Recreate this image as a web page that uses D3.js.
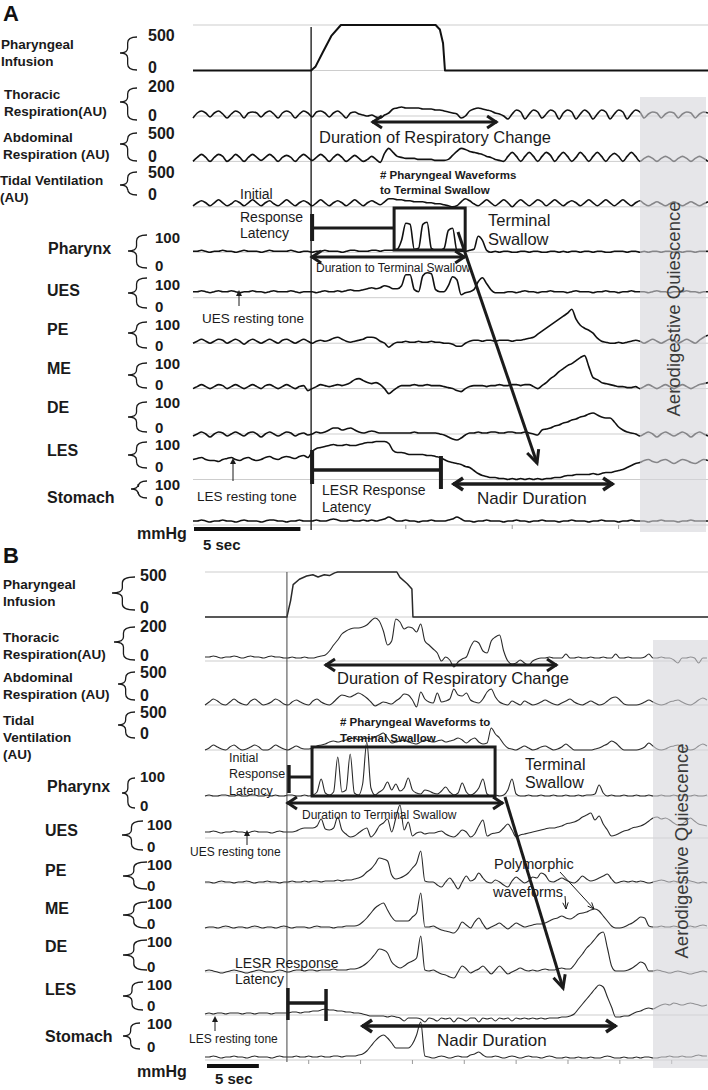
<!DOCTYPE html>
<html><head><meta charset="utf-8">
<script src="https://cdn.jsdelivr.net/npm/d3@7"></script>
<style>body{margin:0;background:#fff}svg{display:block}text{font-family:"Liberation Sans",Arial,Helvetica,sans-serif}</style>
</head><body><svg id="chart" width="708" height="1090"></svg>
<script>
// ===================== DATA =====================
const channelFullScale = [500,200,500,500,100,100,100,100,100,100,100];
const scaleTopLabels = ["500","200","500","500","100","100","100","100","100","100","100"];
const namesA = [["Pharyngeal","Infusion"],["Thoracic","Respiration(AU)"],["Abdominal","Respiration (AU)"],["Tidal Ventilation","(AU)"],["Pharynx"],["UES"],["PE"],["ME"],["DE"],["LES"],["Stomach"]];
const namesB = [["Pharyngeal","Infusion"],["Thoracic","Respiration(AU)"],["Abdominal","Respiration (AU)"],["Tidal","Ventilation","(AU)"],["Pharynx"],["UES"],["PE"],["ME"],["DE"],["LES"],["Stomach"]];
const stepA = 0.2, stepB = 0.4;          // seconds between samples
const onsetA = 5.55, onsetB = 7.9;       // stimulus onset (s)
const tickSecA = [10,15,20], tickSecB = [10,15,20,25,30,35,40,45];

// Panel A
const infusionA = [[0,0],[5.55,0],[5.75,40],[6.1,200],[6.5,380],[6.95,500],[11.4,500],[11.6,450],[11.75,300],[11.84,0],[24.2,0]];
const thoracicA = [-16,24,40,24,-8,24,40,16,-16,16,40,24,-16,24,32,24,-8,24,40,16,-16,24,40,24,-16,16,40,24,
 -8,32,40,24,-8,24,40,16, -16,24,32,16,8,0,8,-8,-16,8,24,
 56,64,72,64,64,64,64,56,56,56,48,48,40,32,24,16,
 -16,0,40,56,64,56,48,40,24,16,0,
 -24,16,48,32,-24,16,48,32,-16,16,48,32,-24,24,48,32,-24,16,48,24,-24,16,48,32,-24,16,48,32,-24,16,48,
 32,-16,16,32,24,-16,16,32,24,-16,16,32,24,-16,16,32,24];
const abdominalA = [0,80,140,80,0,80,140,100,0,60,140,80,0,80,140,80,20,80,140,80,0,80,120,80,0,80,140,80,
 20,80,140,80,0,80,140,80,0,60,120,60,0,40,100,40, -20,160,260,
 180,100,80,60,60,60,40,40,40,40,20,20,20,40,
 120,200,260,240,200,180,160,140,100,80,40,20,
 0,100,180,100,0,100,180,100,0,100,180,120,0,100,180,100,0,80,180,100,0,100,180,100,0,100,160,100,0,100,180,100,
 0,60,100,60,0,60,100,60,0,60,100,60,0,60,100,60,0];
const tidalA = [20,80,120,80,20,80,140,80,20,60,120,80,20,80,140,80,20,80,120,60,20,80,140,80,20,80,120,80,
 20,80,140,80,20,80,120,80,20,80,140,80,20,80,120,80,40,100,
 160,160,140,140,120,120,100,100,100,80,80,60,60,40,20,0,20,100,160,120,60,20,
 80,140,80,20,80,140,80,0,80,140,80,20,80,140,100,20,80,140,80,20,80,120,80,20,80,140,80,20,80,140,80,20,80,140,80,20,80,
 120,60,20,60,100,60,20,60,100,60,20,60,100,60,20,60,100];
const pharynxA = [4,4,8,4,0,4,4,8,4,4,0,4,8,4,4,4,0,4,8,4,4,4,4,8,4,0,4,4,
 0,4,4,8,4,4,4,0,4,8,8,4,4,4,8,8,4,8,8,8,12,
 48,116,112,12,16,112,120,16,8,8,16,88,96,8,4,4,8,12,64,48,
 8,
 0,4,0,4,4,0,0,4,4,0,4,4,0,0,4,4,0,4,0,4,4,0,4,4,0,4,4,0,0,4,4,4,0,4,4,0,4,0,4,4,0,4,4,0,4,0,4,4,0,4,4,4];
const uesA = [24,24,28,24,20,24,28,24,24,28,24,20,24,24,28,24,24,20,24,28,24,24,24,28,24,20,24,24,
 24,20,24,28,24,24,28,24,28,32,28,28,32,36,40,36,40,48,44,36,36,
 48,92,92,32,24,88,100,96,32,24,24,48,84,72,12,20,24,32,64,80,56,32,
 20,20,20,24,24,20,24,28,24,24,20,24,24,28,24,24,24,20,24,28,24,24,24,20,24,24,28,24,24,20,24,24,28,
 24,24,24,20,24,28,24,24,20,24,24,24,28,24,24,20,24,24];
const peA = [0,8,16,8,0,8,16,12,0,8,16,8,-4,8,16,8,0,8,16,8,0,12,16,8,0,8,16,8,
 0,8,12,8,12,20,24,16,8,4,8,12,16,24,24,20,8,0,-16,
 -4,4,4,8,4,4,8,4,4,8,4,4,0,0,-4,-12,-12,
 0,8,12,12,8,12,12,8,12,12,12,8,12,12,16,20,24,
 36,48,60,72,84,96,108,120,136,96,72,60,52,40,20,
 8,4,0,0,4,0,4,8,12,8,
 0,8,16,8,0,8,16,12,0,8,16,8,0,12,24,32];
const meA = [0,8,16,8,0,8,16,12,0,8,16,8,0,8,16,8,0,12,16,8,0,8,16,8,0,8,12,-8,
 0,8,16,12,8,12,16,12,16,24,36,40,32,24,20,24,16,0,-20,
 -8,4,12,12,12,16,12,12,16,12,12,12,8,4,0,-8,-12,
 0,8,12,12,12,8,12,12,16,12,12,16,16,12,16,16,8,0,12,24,
 40,52,68,80,92,100,112,124,132,88,44,36,24,20,16,
 12,8,8,4,4,8,
 0,8,16,8,0,8,16,8,0,8,16,8,0,8,16,20,24];
const deA = [-8,0,8,0,-12,0,8,4,-8,0,8,0,-8,4,8,0,-12,0,8,0,-8,0,8,4,-8,0,4,-4,
 0,8,4,8,16,24,24,16,20,24,16,8,4,8,12,8,4,4,4,
 4,4,4,4,4,8,4,4,4,4,4,0,-4,-12,-20,-24,-16,
 -4,4,4,8,4,4,8,8,4,4,8,8,4,4,8,4,0,-4,
 16,20,24,32,36,44,48,56,60,68,72,80,84,76,68,64,64,
 48,28,16,8,4,0,
 -8,0,8,0,-12,0,8,0,-8,0,8,0,-12,0,8,0,-8];
const lesA = [80,84,88,80,76,76,72,80,84,88,80,76,84,88,80,76,80,88,92,84,80,88,92,88,84,92,96,88,
 112,124,128,132,136,140,136,136,140,136,136,140,144,148,148,152,152,152,144,
 116,108,108,104,100,100,100,100,96,96,92,88,80,72,68,64,60,
 52,48,36,24,16,12,8,8,4,4,0,4,0,4,0,4,0,
 4,0,4,4,8,8,12,16,16,20,20,20,20,24,20,24,28,28,32,36,40,48,56,64,
 68,76,80,72,68,76,80,72,64,72,80,76,68,64,72,80,76];
const stomachA = [16,16,20,16,12,16,16,20,16,16,12,16,20,16,16,16,12,16,20,20,16,16,12,16,16,20,16,16,
 16,20,16,16,20,24,20,16,16,20,16,16,20,16,20,16,20,24,32,24,16,
 16,20,16,16,12,16,16,20,16,16,16,20,24,32,24,16,16,12,16,16,20,16,
 16,16,12,16,16,20,16,16,12,16,16,20,16,16,16,12,16,16,20,16,16,16,12,16,16,20,16,16,16,12,
 16,16,20,16,16,16,12,16,16,20,16,16,16,12,16,16,20,16,16,16,16];

// Panel B
const infusionB = [[0,0],[7.9,0],[8.05,80],[8.25,180],[8.5,360],[9.1,420],[9.8,455],[10.4,470],[10.9,445],[11.5,470],[12.0,460],[12.5,490],[12.8,500],[18.5,500],[18.8,440],[19.5,370],[19.95,310],[20.05,0],[48.5,0]];
const thoracicB = [32,32,40,32,24,32,32,40,32,24,32,40,32,32,24,32,40,32,32,24,24,32,24,24,32,24,24,32,40,48,
 80,128,168,216,240,256,264,264,272,288,320,344,320,240,128,160,336,312,256,272,264,232,296,160,128,96,64,0,32,8,
 -48,-8,16,32,112,160,144,80,64,160,192,208,80,0,-24,-16,8,-16,-32,0,16,24,24,32,24,24,24,56,24,24,
 32,24,24,32,24,24,32,24,24,56,24,24,32,24,24,24,32,56,24,24,32,24,24,8,-16,24,24,32,24,-16,24,24];
const abdominalB = [0,60,120,80,20,0,60,120,60,20,0,80,120,60,0,20,60,120,80,20,0,60,100,60,20,0,80,120,60,20,0,60,
 140,200,180,160,200,240,200,140,60,-20,20,60,40,20,80,140,220,200,100,-40,260,120,60,40,240,60,80,120,320,200,
 180,240,100,60,40,120,260,320,160,60,20,0,80,40,0,80,40,0,20,60,100,60,20,0,40,80,120,60,20,0,
 40,80,40,0,20,80,140,160,100,20,0,0,0,20,60,100,60,20,0,20,60,80,100,60,20,0,40,100,140,100];
const tidalB = [0,40,100,60,20,0,60,100,40,0,20,60,100,60,0,0,40,100,60,20,0,40,80,
 40,20,20,40,80,100,120,160,180,160,180,200,220,240,200,220,240,220,260,300,340,240,140,160,180,200,160,140,120,160,
 200,180,160,180,200,160,180,200,240,200,140,200,240,160,120,140,440,320,240,120,40,20,0,40,80,40,0,20,60,80,
 40,0,20,60,120,60,0,0,0,0,0,20,40,80,120,180,140,60,0,0,0,0,20,60,140,80,20,0,20,60,
 80,100,60,20,0,20,80,120,80];
const pharynxB = [0,4,0,0,4,4,0,0,4,0,0,4,4,0,0,4,0,4,0,0,4,4,0,0,4,0,4,
 16,68,12,4,16,156,16,24,168,12,4,48,216,32,4,16,28,56,24,48,20,32,72,24,12,8,24,20,12,8,
 20,36,16,4,12,52,16,4,12,32,68,8,0,4,0,4,24,68,8,0,
 0,4,0,0,4,0,0,4,0,0,4,0,0,4,0,4,4,8,44,12,0,4,0,0,4,0,0,4,0,0,4,0,0,4,0,0,4,0,4,0,0,4,0,0,4];
const uesB = [24,24,28,24,20,24,24,28,24,24,20,24,28,24,24,24,20,24,28,24,24,24,28,
 36,40,40,40,48,76,36,32,40,84,32,16,4,8,20,32,40,4,20,48,60,76,24,80,132,32,64,8,20,24,
 16,20,20,24,28,16,8,4,16,32,24,4,16,48,72,8,16,20,24,40,56,32,4,12,16,20,24,28,32,36,
 40,40,44,48,56,60,64,72,84,92,100,72,88,56,32,8,12,20,28,32,40,44,48,56,68,80,84,76,80,72,
 60,52,56,68,80,68,56,52,48];
const peB = [4,4,0,4,8,4,4,0,4,4,8,4,0,4,4,8,4,4,0,4,4,8,4,4,8,4,8,8,4,8,8,8,12,8,12,12,
 16,20,28,44,56,76,100,96,88,32,16,20,28,40,60,80,128,8,4,4,-8,-16,4,20,0,-24,4,28,8,16,
 40,20,4,0,12,4,-8,-16,8,24,12,0,8,24,20,40,32,8,4,12,20,12,4,0,12,28,16,8,12,20,
 28,36,16,0,4,8,4,8,4,8,4,0,4,8,12,8,4,8,4,8,12,8,4,0,4,0];
const meB = [0,4,4,0,4,8,4,0,4,4,0,4,8,4,0,4,4,0,4,8,4,0,4,4,4,0,4,8,4,4,4,0,4,4,8,8,8,
 12,24,40,60,80,92,100,72,44,28,28,28,28,44,60,140,4,4,8,0,-8,-12,-16,-20,-4,24,12,0,24,40,
 16,-4,4,12,20,8,-4,8,20,12,4,8,12,16,16,20,28,36,40,48,40,36,44,56,60,64,72,76,68,48,
 28,8,0,0,4,12,20,32,44,40,8,4,4,8,4,4,8,4,0,4,8,4,8,12,8];
const deB = [4,8,4,0,-4,0,4,8,4,0,-4,0,4,8,4,0,0,4,8,4,0,4,8,8,4,8,8,4,8,8,8,12,8,8,8,12,12,
 16,24,36,52,72,92,88,76,40,24,16,24,36,44,56,144,8,4,8,0,-8,-12,-20,-24,0,24,12,-4,4,12,
 24,8,-8,8,24,8,-8,0,8,16,8,4,8,4,8,12,8,8,12,16,12,12,28,52,72,96,112,132,152,160,
 96,24,4,4,4,8,16,28,40,32,4,4,8,4,0,-4,0,4,0,-4,-8,-4,0,4,0];
const lesB = [4,8,4,8,8,4,8,8,8,4,8,8,4,8,8,8,4,8,8,8,8,12,12,8,12,12,16,16,20,24,20,
 20,16,16,12,12,8,8,4,0,-4,-4,-4,-4,-8,-4,-8,-12,-24,-12,-12,-12,-16,-28,-12,-16,-24,-12,-16,-12,-28,
 -12,-16,-24,-12,-12,-28,-12,-16,-12,-24,-12,-16,-12,-24,-12,-16,-12,-16,-12,-16,-12,-16,-12,-12,-12,-8,-8,-4,4,24,
 44,64,84,104,120,112,72,32,-8,-8,-4,-4,4,12,16,24,28,24,32,40,44,40,48,44,40,44,48,44,40,36,40];
const stomachB = [12,12,16,12,8,12,12,16,12,12,8,12,16,12,12,12,8,12,16,12,12,12,16,12,12,16,12,12,16,12,12,16,16,12,16,16,16,20,
 24,36,56,76,92,100,88,68,48,48,48,48,64,100,152,16,12,8,12,16,12,8,12,16,12,12,20,24,32,20,
 12,12,16,12,8,12,16,12,8,12,16,12,12,8,12,16,12,8,8,12,8,8,12,8,8,12,8,8,12,16,
 12,8,8,12,8,8,12,8,12,12,8,8,12,12,16,12,12,16,12,12,16,20,16,16];

// Annotation spans (seconds)
const respChangeA = [8.41,14.29], boxA = [9.45,12.79], nadirA = [12.22,19.74], lesrA = [onsetA,11.65];
const respChangeB = [11.57,33.94], boxB = [10.32,27.97], nadirB = [15.14,39.63], lesrB = [onsetB,11.67], termB = 28.74;

// ===================== LAYOUT =====================
const panels = [
 { letter:"A", letterY:21, x0:193, x1:708, tMax:24.2, top:25, step:stepA, onset:onsetA, ticks:tickSecA,
   baselines:[70.5,116,161.4,206.8,252.3,297.7,343.2,388.6,434,479.5,525],
   series:[infusionA,thoracicA,abdominalA,tidalA,pharynxA,uesA,peA,meA,deA,lesA,stomachA], names:namesA,
   lineW:1.6, lineC:"#111", onsetTop:27, onsetBottom:530, onsetW:1.3, onsetC:"#111",
   labels:[{x:1,ys:[44,61],s:13.5},{x:4,ys:[94,111],s:13.5},{x:3,ys:[137,154],s:13.5},{x:0,ys:[180,197],s:13.5},
     {x:48,ys:[248],s:16},{x:47,ys:[290],s:16},{x:47,ys:[329],s:16},{x:47,ys:[368],s:16},{x:47,ys:[407],s:16},{x:47,ys:[450],s:16},{x:47,ys:[497],s:16}],
   nums:[{x:148,t:35,z:67},{x:148,t:86,z:115},{x:148,t:133,z:156},{x:148,t:172,z:194},{x:155,t:238,z:266},{x:155,t:285,z:307},{x:155,t:325,z:346},{x:155,t:364,z:385},{x:155,t:403,z:428},{x:155,t:445,z:467},{x:155,t:485,z:501}],
   braces:[[120,137,37,70,53],[120,137,88,120,102],[120,137,133,161,144],[120,137,172,195,185],[128,147,235,268,251],[128,147,278,308,293],[128,147,322,348,333],[128,147,363,388,375],[128,147,402,432,417],[128,147,442,468,455],[131,147,481,498,489]],
   shade:{x:640,y:97,w:66,h:435}, quiesY:309,
   scale:{mm:[137,533], bar:[194,529], sec:[203,545]}
 },
 { letter:"B", letterY:563, x0:205, x1:708, tMax:48.5, top:572, step:stepB, onset:onsetB, ticks:tickSecB,
   baselines:[617,661,705,750,796,838,883,928,972,1015,1060],
   series:[infusionB,thoracicB,abdominalB,tidalB,pharynxB,uesB,peB,meB,deB,lesB,stomachB], names:namesB,
   lineW:1.1, lineC:"#2a2a2a", onsetTop:572, onsetBottom:1062, onsetW:1, onsetC:"#444",
   labels:[{x:3,ys:[584,601],s:13.5},{x:3,ys:[637,654],s:13.5},{x:3,ys:[677,694],s:13.5},{x:3,ys:[720,737,754],s:13.5},
     {x:47,ys:[786],s:16},{x:45,ys:[830],s:16},{x:45,ys:[870],s:16},{x:45,ys:[908],s:16},{x:45,ys:[946],s:16},{x:45,ys:[989],s:16},{x:45,ys:[1036],s:16}],
   nums:[{x:140,t:575,z:607},{x:140,t:626,z:655},{x:140,t:672,z:695},{x:140,t:712,z:733},{x:140,t:777,z:806},{x:147,t:825,z:847},{x:147,t:865,z:886},{x:147,t:904,z:924},{x:147,t:942,z:967},{x:147,t:985,z:1006},{x:147,t:1024,z:1047}],
   braces:[[112,135,577,610,593],[114,135,627,660,642],[118,135,672,700,684],[118,135,712,738,725],[122,135,778,808,793],[122,143,821,850,835],[123,147,862,889,876],[123,147,902,928,915],[123,147,940,970,955],[123,143,982,1010,996],[123,140,1023,1049,1036]],
   shade:{x:653,y:640,w:55,h:428}, quiesY:851,
   scale:{mm:[137,1071], bar:[207,1066], sec:[215,1079]}
 }
];

// ===================== DRAW =====================
const svg = d3.select("#chart");
const ANN = "#1b1b1b";

function bracePath(tip, right, top, bot, tipY){
  const m = tip + (right-tip)*0.45;
  return `M${right},${top} Q${m},${top} ${m},${top+6} L${m},${tipY-5} Q${m},${tipY} ${tip},${tipY} Q${m},${tipY} ${m},${tipY+5} L${m},${bot-6} Q${m},${bot} ${right},${bot}`;
}
function txt(g, x, y, s, size, opts={}){
  return g.append("text").attr("x",x).attr("y",y).attr("dy","0.35em").attr("font-size",size)
    .attr("font-weight",opts.bold?"bold":"normal").attr("fill",opts.fill||ANN).text(s);
}
function hArrow(g, xa, xb, y, w){
  g.append("line").attr("x1",xa).attr("x2",xb).attr("y1",y).attr("y2",y).attr("stroke",ANN).attr("stroke-width",w);
  g.append("path").attr("d",`M${xa+10},${y-6} L${xa+1},${y} L${xa+10},${y+6}`).attr("fill","none").attr("stroke",ANN).attr("stroke-width",w).attr("stroke-linejoin","miter");
  g.append("path").attr("d",`M${xb-10},${y-6} L${xb-1},${y} L${xb-10},${y+6}`).attr("fill","none").attr("stroke",ANN).attr("stroke-width",w).attr("stroke-linejoin","miter");
}
function dArrow(g, x1,y1,x2,y2,w,head){
  g.append("line").attr("x1",x1).attr("y1",y1).attr("x2",x2).attr("y2",y2).attr("stroke",ANN).attr("stroke-width",w);
  const a = Math.atan2(y2-y1,x2-x1), L = head, sp = 0.45;
  const p1 = [x2 - L*Math.cos(a-sp), y2 - L*Math.sin(a-sp)], p2 = [x2 - L*Math.cos(a+sp), y2 - L*Math.sin(a+sp)];
  g.append("path").attr("d",`M${p1[0]},${p1[1]} L${x2},${y2} L${p2[0]},${p2[1]}`).attr("fill","none").attr("stroke",ANN).attr("stroke-width",w);
}
function thinUp(g, x, y1, y2){
  g.append("line").attr("x1",x).attr("x2",x).attr("y1",y1).attr("y2",y2+4).attr("stroke",ANN).attr("stroke-width",1);
  g.append("path").attr("d",`M${x-3},${y2+6} L${x},${y2} L${x+3},${y2+6} Z`).attr("fill",ANN);
}
function thinArrow(g,x1,y1,x2,y2){
  g.append("line").attr("x1",x1).attr("y1",y1).attr("x2",x2).attr("y2",y2).attr("stroke",ANN).attr("stroke-width",1);
  const a=Math.atan2(y2-y1,x2-x1), L=7, sp=0.4;
  g.append("path").attr("d",`M${x2-L*Math.cos(a-sp)},${y2-L*Math.sin(a-sp)} L${x2},${y2} L${x2-L*Math.cos(a+sp)},${y2-L*Math.sin(a+sp)}`).attr("fill","none").attr("stroke",ANN).attr("stroke-width",1);
}

const xs = [];
panels.forEach((P, pi) => {
  const g = svg.append("g");
  const x = d3.scaleLinear().domain([0, P.tMax]).range([P.x0, P.x1]);
  xs.push(x);
  g.selectAll(null).data([P.top, ...P.baselines]).join("line")
    .attr("x1",P.x0).attr("x2",P.x1).attr("y1",d=>d).attr("y2",d=>d).attr("stroke","#cdcdcd").attr("stroke-width",1);
  const yb = P.baselines[10];
  g.selectAll(null).data(P.ticks).join("line")
    .attr("x1",d=>x(d)).attr("x2",d=>x(d)).attr("y1",yb).attr("y2",yb+4).attr("stroke","#9a9a9a").attr("stroke-width",1);
  P.series.forEach((vals, k) => {
    const top = k===0 ? P.top : P.baselines[k]-25;
    const y = d3.scaleLinear().domain([0, channelFullScale[k]]).range([P.baselines[k], top]);
    const pts = k===0 ? vals : vals.map((v,i)=>[i*P.step, v]);
    const line = d3.line().x(d=>x(d[0])).y(d=>y(d[1])).curve(k===0 ? d3.curveLinear : d3.curveMonotoneX);
    g.append("path").attr("d",line(pts)).attr("fill","none").attr("stroke",P.lineC)
      .attr("stroke-width", k===0 ? P.lineW+0.4 : P.lineW).attr("stroke-linejoin","round");
  });
  g.append("line").attr("x1",x(P.onset)).attr("x2",x(P.onset)).attr("y1",P.onsetTop).attr("y2",P.onsetBottom)
    .attr("stroke",P.onsetC).attr("stroke-width",P.onsetW);
  g.append("rect").attr("x",P.shade.x).attr("y",P.shade.y).attr("width",P.shade.w).attr("height",P.shade.h)
    .attr("fill","#d5d6da").attr("fill-opacity",0.6);
  g.append("text").attr("transform",`translate(${P.shade.x+P.shade.w/2+1},${P.quiesY}) rotate(-90)`)
    .attr("text-anchor","middle").attr("dy","0.35em").attr("font-size",18.5).attr("fill","#3a3a3a").text("Aerodigestive Quiescence");
  g.append("text").attr("x",3).attr("y",P.letterY).attr("font-size",22).attr("font-weight","bold").attr("fill","#111").text(P.letter);
  P.names.forEach((lines, k) => {
    const L = P.labels[k];
    lines.forEach((s, j) => txt(g, L.x, L.ys[j], s, L.s, {bold:true, fill:"#1a1a1a"}));
    const b = P.braces[k];
    g.append("path").attr("d",bracePath(...b)).attr("fill","none").attr("stroke","#1a1a1a").attr("stroke-width",1.3);
    const N = P.nums[k], ns = k < 4 ? 16 : 15;
    txt(g, N.x, N.t, scaleTopLabels[k], ns, {bold:true, fill:"#1a1a1a"});
    txt(g, N.x, N.z, "0", ns, {bold:true, fill:"#1a1a1a"});
  });
  txt(g, P.scale.mm[0], P.scale.mm[1], "mmHg", 16, {bold:true, fill:"#1a1a1a"});
  g.append("rect").attr("x",P.scale.bar[0]).attr("y",P.scale.bar[1]-2).attr("width",x(5)-x(0)).attr("height",4).attr("fill","#111");
  txt(g, P.scale.sec[0], P.scale.sec[1], "5 sec", 15, {bold:true, fill:"#1a1a1a"});
});

// ---------- annotations panel A ----------
{
  const g = svg.append("g"), x = xs[0], on = x(onsetA);
  hArrow(g, x(respChangeA[0]), x(respChangeA[1]), 122, 3);
  txt(g, 319, 137, "Duration of Respiratory Change", 16.5);
  txt(g, 380, 175, "# Pharyngeal Waveforms", 11.5, {bold:true});
  txt(g, 380, 190, "to Terminal Swallow", 11.5, {bold:true});
  txt(g, 240, 194, "Initial", 14); txt(g, 240, 217, "Response", 14); txt(g, 240, 233, "Latency", 14);
  g.append("line").attr("x1",on+1).attr("x2",on+1).attr("y1",214).attr("y2",241).attr("stroke",ANN).attr("stroke-width",4);
  g.append("line").attr("x1",on).attr("x2",x(boxA[0])).attr("y1",228).attr("y2",228).attr("stroke",ANN).attr("stroke-width",3);
  g.append("rect").attr("x",x(boxA[0])).attr("y",208).attr("width",x(boxA[1])-x(boxA[0])).attr("height",42).attr("fill","none").attr("stroke",ANN).attr("stroke-width",3);
  txt(g, 488, 220, "Terminal", 16.5); txt(g, 488, 239, "Swallow", 16.5);
  hArrow(g, on, x(boxA[1]), 257, 3);
  txt(g, 316, 268, "Duration to Terminal Swallow", 12);
  dArrow(g, 458, 232, 537, 463, 3, 14);
  txt(g, 202, 318, "UES resting tone", 13.5); thinUp(g, 239, 306, 290);
  txt(g, 197, 496, "LES resting tone", 13.5); thinUp(g, 233, 481, 458);
  g.append("line").attr("x1",x(lesrA[0])+1).attr("x2",x(lesrA[0])+1).attr("y1",450).attr("y2",484).attr("stroke",ANN).attr("stroke-width",4);
  g.append("line").attr("x1",x(lesrA[0])).attr("x2",x(lesrA[1])).attr("y1",470).attr("y2",470).attr("stroke",ANN).attr("stroke-width",3.5);
  g.append("line").attr("x1",x(lesrA[1])).attr("x2",x(lesrA[1])).attr("y1",456).attr("y2",489).attr("stroke",ANN).attr("stroke-width",4);
  txt(g, 322, 490, "LESR Response", 14); txt(g, 322, 507, "Latency", 14);
  hArrow(g, x(nadirA[0]), x(nadirA[1]), 484, 3.5);
  txt(g, 477, 498, "Nadir Duration", 17);
}
// ---------- annotations panel B ----------
{
  const g = svg.append("g"), x = xs[1], on = x(onsetB);
  hArrow(g, x(respChangeB[0]), x(respChangeB[1]), 665, 3);
  txt(g, 337, 678, "Duration of Respiratory Change", 16.5);
  txt(g, 340, 722, "# Pharyngeal Waveforms  to", 11.5, {bold:true});
  txt(g, 340, 738, "Terminal Swallow", 11.5, {bold:true});
  txt(g, 229, 758, "Initial", 12.5); txt(g, 229, 774, "Response", 12.5); txt(g, 229, 791, "Latency", 12.5);
  g.append("line").attr("x1",on+2).attr("x2",on+2).attr("y1",765).attr("y2",793).attr("stroke",ANN).attr("stroke-width",3.5);
  g.append("line").attr("x1",on+2).attr("x2",x(boxB[0])).attr("y1",777).attr("y2",777).attr("stroke",ANN).attr("stroke-width",3);
  g.append("rect").attr("x",x(boxB[0])).attr("y",747).attr("width",x(boxB[1])-x(boxB[0])).attr("height",49).attr("fill","none").attr("stroke",ANN).attr("stroke-width",3);
  txt(g, 525, 764, "Terminal", 16); txt(g, 525, 782, "Swallow", 16);
  hArrow(g, on, x(termB), 803, 3);
  txt(g, 302, 815, "Duration to Terminal Swallow", 12);
  dArrow(g, 505, 797, 563, 988, 3, 14);
  txt(g, 190, 852, "UES resting tone", 12); thinUp(g, 247, 845, 830);
  txt(g, 189, 1039, "LES resting tone", 12); thinUp(g, 215, 1031, 1016);
  txt(g, 235, 963, "LESR Response", 14); txt(g, 235, 979, "Latency", 14);
  g.append("line").attr("x1",x(lesrB[0])+1).attr("x2",x(lesrB[0])+1).attr("y1",988).attr("y2",1020).attr("stroke",ANN).attr("stroke-width",3.5);
  g.append("line").attr("x1",x(lesrB[0])).attr("x2",x(lesrB[1])).attr("y1",1003).attr("y2",1003).attr("stroke",ANN).attr("stroke-width",3.5);
  g.append("line").attr("x1",x(lesrB[1])).attr("x2",x(lesrB[1])).attr("y1",989).attr("y2",1021).attr("stroke",ANN).attr("stroke-width",3.5);
  hArrow(g, x(nadirB[0]), x(nadirB[1]), 1026, 3.5);
  txt(g, 437, 1040, "Nadir Duration", 17);
  txt(g, 494, 864, "Polymorphic", 14.5); txt(g, 493, 892, "waveforms", 14.5);
  thinArrow(g, 565, 896, 566, 909);
  thinArrow(g, 560, 872, 594, 909);
}
</script></body></html>
